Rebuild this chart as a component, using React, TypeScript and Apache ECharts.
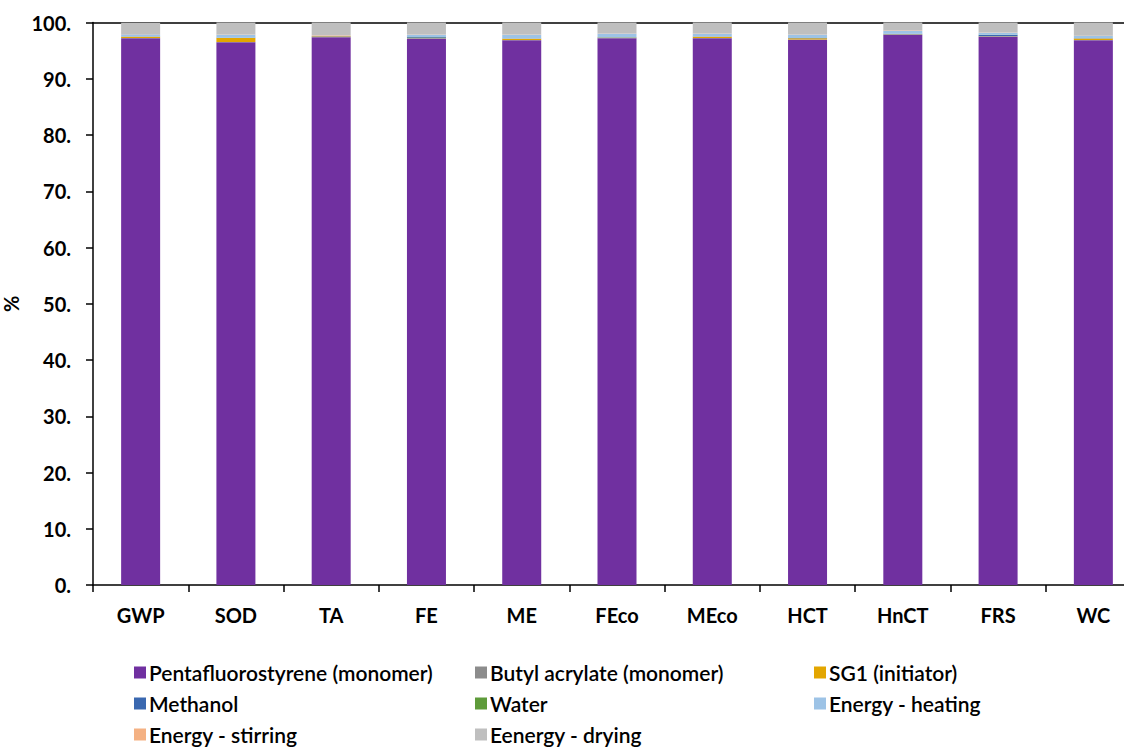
import React, { useEffect, useRef } from "react";
import * as echarts from "echarts";

const categories = ["GWP", "SOD", "TA", "FE", "ME", "FEco", "MEco", "HCT", "HnCT", "FRS", "WC"];
const seriesNames = [
  "Pentafluorostyrene (monomer)",
  "Butyl acrylate (monomer)",
  "SG1 (initiator)",
  "Methanol",
  "Water",
  "Energy - heating",
  "Energy - stirring",
  "Eenergy - drying",
];
const colors = ["#7030A0", "#8C8C8C", "#E3A600", "#3A68B0", "#5E9B3A", "#9DC3E6", "#F4B183", "#BFBFBF"];

const pentafluorostyrene = [97.2, 96.5, 97.4, 97.1, 96.85, 97.2, 97.2, 96.95, 97.8, 97.45, 96.85];
const butylAcrylate = [0.05, 0.05, 0.05, 0.05, 0.05, 0.05, 0.05, 0.05, 0.05, 0.05, 0.05];
const sg1 = [0.2, 0.7, 0.1, 0.05, 0.2, 0.05, 0.2, 0.2, 0.05, 0.05, 0.25];
const methanol = [0.05, 0.05, 0.05, 0.2, 0.05, 0.05, 0.05, 0.05, 0.1, 0.25, 0.05];
const water = [0.01, 0.01, 0.01, 0.01, 0.01, 0.01, 0.01, 0.01, 0.01, 0.01, 0.01];
const energyHeating = [0.4, 0.5, 0.1, 0.4, 0.65, 0.7, 0.5, 0.6, 0.5, 0.35, 0.4];
const energyStirring = [0.05, 0.05, 0.05, 0.05, 0.05, 0.05, 0.05, 0.05, 0.05, 0.05, 0.05];
const energyDrying = [2.0, 2.3, 2.4, 2.3, 2.25, 2.1, 2.1, 2.25, 1.6, 1.95, 2.5];

const seriesData = [pentafluorostyrene, butylAcrylate, sg1, methanol, water, energyHeating, energyStirring, energyDrying];
const yTicks = [0, 10, 20, 30, 40, 50, 60, 70, 80, 90, 100];

const FONT = "Lato, 'Open Sans', sans-serif";

export default function App() {
  const ref = useRef<HTMLDivElement>(null);
  useEffect(() => {
    if (!ref.current) return;
    const chart = echarts.init(ref.current, undefined, { renderer: "svg" });
    const legendCol = (names: string[], left: number) => ({
      data: names,
      orient: "vertical",
      left,
      top: 657,
      height: 120,
      itemWidth: 12,
      itemHeight: 12,
      itemGap: 10,
      icon: "rect",
      textStyle: { fontFamily: FONT, fontSize: 21, color: "#000", fontWeight: 600, padding: [0, 0, 0, -2] },
    });
    chart.setOption({
      animation: false,
      color: colors,
      textStyle: { fontFamily: FONT },
      grid: { left: 93, right: -17, top: 22.5, bottom: 162, containLabel: false, outerBoundsMode: "none" },
      legend: [
        legendCol([seriesNames[0], seriesNames[3], seriesNames[6]], 129),
        legendCol([seriesNames[1], seriesNames[4], seriesNames[7]], 470),
        legendCol([seriesNames[2], seriesNames[5]], 809),
      ],
      xAxis: [
        {
          type: "category",
          data: categories,
          axisLine: { lineStyle: { color: "#000", width: 1.5 } },
          axisTick: { show: true, length: 7, lineStyle: { color: "#000", width: 1.5 } },
          axisLabel: { fontFamily: FONT, fontSize: 20, fontWeight: "bold", color: "#000", margin: 20 },
        },
        {
          type: "category",
          data: categories,
          position: "top",
          axisLine: { lineStyle: { color: "#000", width: 1.5 } },
          axisTick: { show: false },
          axisLabel: { show: false },
        },
      ],
      yAxis: {
        type: "value",
        min: yTicks[0],
        max: yTicks[yTicks.length - 1],
        interval: 10,
        name: "%",
        nameLocation: "middle",
        nameGap: 68,
        nameRotate: 90,
        nameTextStyle: { fontFamily: FONT, fontSize: 20, fontWeight: "bold", color: "#000" },
        axisLine: { show: true, lineStyle: { color: "#000", width: 1.5 } },
        axisTick: { show: true, length: 7, lineStyle: { color: "#000", width: 1.5 } },
        splitLine: { show: false },
        axisLabel: {
          fontFamily: FONT,
          fontSize: 20,
          fontWeight: "bold",
          color: "#000",
          margin: 22,
          formatter: (v: number) => `${v}.`,
        },
      },
      series: seriesNames.map((name, i) => ({
        name,
        type: "bar",
        stack: "total",
        barWidth: 39,
        data: seriesData[i],
        itemStyle: { color: colors[i] },
      })),
    });
    return () => chart.dispose();
  }, []);
  return <div ref={ref} style={{ width: 1124, height: 747, position: "absolute", left: 0, top: 0 }} />;
}
